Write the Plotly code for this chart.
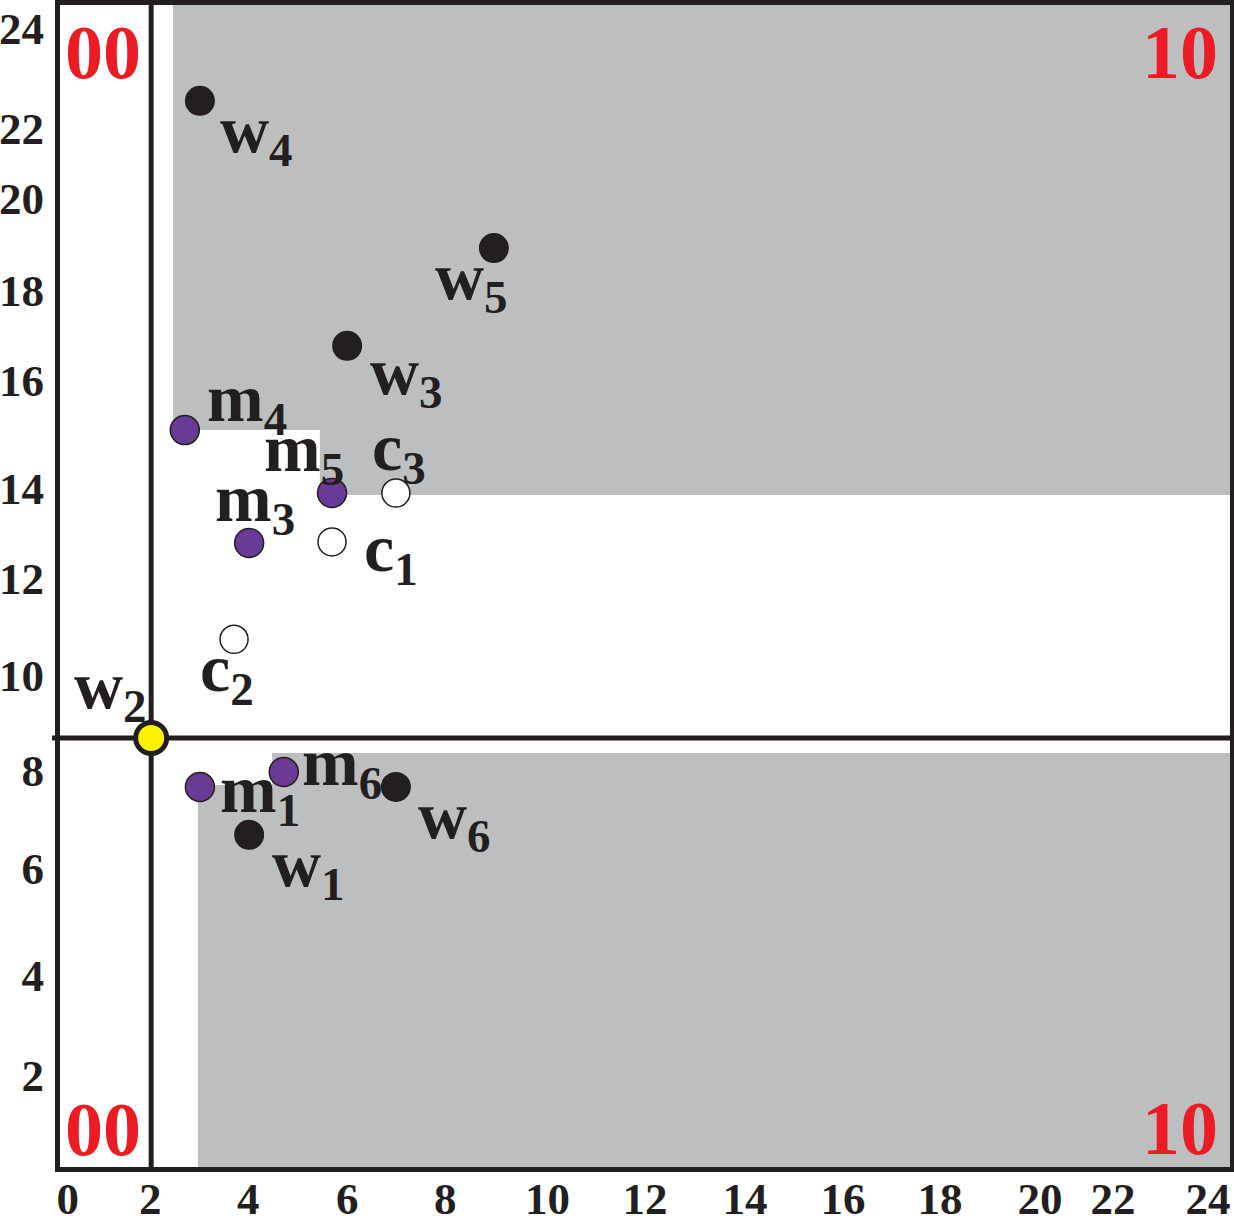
import plotly.graph_objects as go

# ---- data ----
x_tick_pos = [0.16, 1.85, 3.86, 5.89, 7.9, 10.0, 12.0, 14.05, 16.06, 18.05, 20.1, 21.6, 23.55]
x_tick_text = ["0", "2", "4", "6", "8", "10", "12", "14", "16", "18", "20", "22", "24"]
y_tick_pos = [23.52, 21.46, 20.01, 18.11, 16.25, 14.02, 12.16, 10.16, 8.2, 6.18, 3.97, 1.9]
y_tick_text = ["24", "22", "20", "18", "16", "14", "12", "10", "8", "6", "4", "2"]

w_names = ["w", "w", "w", "w", "w"]
w_subs = ["4", "5", "3", "6", "1"]
w_x = [2.87, 8.90, 5.89, 6.89, 3.88]
w_y = [22.02, 18.98, 16.96, 7.85, 6.86]
w_lx = [3.24, 7.65, 6.32, 7.30, 4.31]
w_ly = [21.35, 18.32, 16.34, 7.17, 6.18]

m_names = ["m", "m", "m", "m", "m"]
m_subs = ["4", "5", "3", "1", "6"]
m_x = [2.56, 5.58, 3.88, 2.87, 4.59]
m_y = [15.22, 13.92, 12.89, 7.85, 8.16]
m_lx = [2.97, 4.14, 3.14, 3.24, 4.92]
m_ly = [15.80, 14.76, 13.73, 7.72, 8.28]

c_names = ["c", "c", "c"]
c_subs = ["3", "1", "2"]
c_x = [6.89, 5.58, 3.57]
c_y = [13.92, 12.91, 10.90]
c_lx = [6.36, 6.19, 2.83]
c_ly = [14.77, 12.70, 10.22]

w2_name = "w"
w2_sub = "2"
w2_x = [1.87]
w2_y = [8.86]
w2_lx = 0.25
w2_ly = 9.86

split_x = 1.87
split_y = 8.86

upper_gray_x = [2.32, 24, 24, 5.33, 5.33, 2.32]
upper_gray_y = [24, 24, 13.88, 13.88, 15.22, 15.22]
lower_gray_x = [2.83, 2.83, 4.35, 4.35, 24, 24]
lower_gray_y = [0, 7.89, 7.89, 8.55, 8.55, 0]

region_text = ["00", "00", "10", "10"]
region_x = [0.88, 0.88, 22.97, 22.97]
region_y = [23.03, 0.78, 23.03, 0.80]

INK = "#231F20"
GRAY = "#BCBEC0"
RED = "#ED1C24"
FONT = "Liberation Serif"


def path(xs, ys):
    return "M " + " L ".join(f"{a},{b}" for a, b in zip(xs, ys)) + " Z"


def label(n, s):
    return f"{n}<sub><span style='font-size:47px'>{s}</span></sub>"


fig = go.Figure()

fig.add_trace(go.Scatter(x=w_x, y=w_y, mode="markers",
                         marker=dict(size=30, color=INK, line=dict(width=0)),
                         hoverinfo="skip", showlegend=False))
fig.add_trace(go.Scatter(x=m_x, y=m_y, mode="markers",
                         marker=dict(size=29, color="#6A3B96", line=dict(width=1.5, color=INK)),
                         hoverinfo="skip", showlegend=False))
fig.add_trace(go.Scatter(x=c_x, y=c_y, mode="markers",
                         marker=dict(size=28, color="white", line=dict(width=1.5, color=INK)),
                         hoverinfo="skip", showlegend=False))
fig.add_trace(go.Scatter(x=w2_x, y=w2_y, mode="markers",
                         marker=dict(size=31, color="#FFF200", line=dict(width=5, color=INK)),
                         hoverinfo="skip", showlegend=False))

shapes = [
    dict(type="path", path=path(upper_gray_x, upper_gray_y), fillcolor=GRAY,
         line=dict(width=0), layer="below", xref="x", yref="y"),
    dict(type="path", path=path(lower_gray_x, lower_gray_y), fillcolor=GRAY,
         line=dict(width=0), layer="below", xref="x", yref="y"),
    dict(type="line", x0=split_x, x1=split_x, y0=0, y1=1, xref="x", yref="paper",
         line=dict(color=INK, width=5), layer="below"),
    dict(type="line", x0=-0.0068, x1=1, y0=split_y, y1=split_y, xref="paper", yref="y",
         line=dict(color=INK, width=5), layer="below"),
]

annotations = []
for names, subs, lx, ly in [(w_names, w_subs, w_lx, w_ly), (m_names, m_subs, m_lx, m_ly),
                            (c_names, c_subs, c_lx, c_ly), ([w2_name], [w2_sub], [w2_lx], [w2_ly])]:
    for n, s, a, b in zip(names, subs, lx, ly):
        annotations.append(dict(x=a, y=b, text=label(n, s), showarrow=False,
                                xanchor="left", yanchor="middle",
                                font=dict(family=FONT, size=68, color=INK, weight="bold")))
for t, a, b in zip(region_text, region_x, region_y):
    annotations.append(dict(x=a, y=b, text=t, showarrow=False, xanchor="center", yanchor="middle",
                            font=dict(family=FONT, size=76, color=RED, weight="bold")))

axis_common = dict(range=[0, 24], showgrid=False, zeroline=False, showline=True, mirror=True,
                   linecolor=INK, linewidth=5, ticks="", automargin=False,
                   tickfont=dict(family=FONT, size=45, color=INK, weight="bold"))

fig.update_layout(
    width=1234, height=1221,
    margin=dict(l=60, r=4, t=5, b=54),
    paper_bgcolor="white", plot_bgcolor="white",
    shapes=shapes, annotations=annotations,
    xaxis=dict(tickvals=x_tick_pos, ticktext=x_tick_text, ticklabelstandoff=-12, **axis_common),
    yaxis=dict(tickvals=y_tick_pos, ticktext=y_tick_text, ticklabelstandoff=2, **axis_common),
)

fig.write_html("out.html")
